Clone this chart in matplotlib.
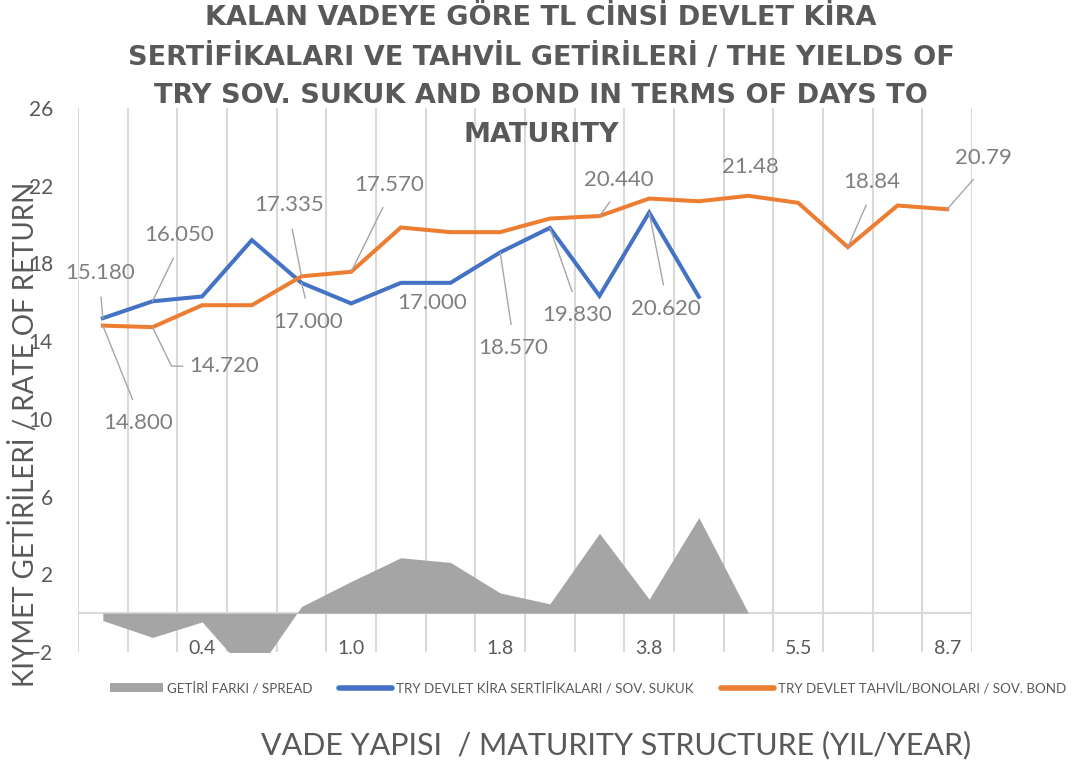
import matplotlib
matplotlib.use("Agg")
import matplotlib.pyplot as plt
from matplotlib.patches import Patch
from matplotlib.lines import Line2D
import numpy as np

plt.rcParams['font.family'] = ['Lato', 'DejaVu Sans']

# categories (only every third one is labelled on the axis)
x_labels = ["", "", "0.4", "", "", "1.0", "", "", "1.8", "", "", "3.8",
            "", "", "5.5", "", "", "8.7"]

bond = [14.80, 14.72, 15.85, 15.85, 17.335, 17.57, 19.85, 19.61, 19.61, 20.31,
        20.44, 21.34, 21.20, 21.48, 21.12, 18.84, 20.98, 20.79]
sukuk = [15.18, 16.05, 16.30, 19.20, 17.00, 15.94, 17.00, 17.00, 18.57, 19.83,
         16.33, 20.62, 16.28]
spread = [-0.38, -1.25, -0.45, -3.35, 0.34, 1.63, 2.85, 2.61, 1.04, 0.48,
          4.11, 0.72, 4.92, 0.0]

# data labels: index, text, offset of text centre (px), leader on/off
sukuk_lbl = [(0, "15.180", (-3, 45), True),
             (1, "16.050", (27, 66), True),
             (4, "17.000", (7, -39), True),
             (6, "17.000", (31, -20), False),
             (8, "18.570", (13, -96), True),
             (9, "19.830", (27, -87), True),
             (11, "20.620", (17, -96), True)]
bond_lbl = [(0, "14.800", (35, -97), True),
            (1, "14.720", (72, -39), "elbow"),
            (4, "17.335", (-12, 71), True),
            (5, "17.570", (38, 87), True),
            (10, "20.440", (19, 36), True),
            (13, "21.48", (2, 29), False),
            (15, "18.84", (24, 65), True),
            (17, "20.79", (36, 51), True)]

c_blue = "#4472C4"
c_orange = "#ED7D31"
c_gray = "#A5A5A5"
c_text = "#595959"
c_lbl = "#7F7F7F"
c_grid = "#D9D9D9"

fig = plt.figure(figsize=(10.73, 7.67), dpi=100)
ax = fig.add_axes([78/1073, 1-652/767, 894/1073, 544/767])

xb = np.arange(len(bond))
xs = np.arange(len(sukuk))
xa = np.arange(len(spread))

ax.fill_between(xa, 0, spread, color=c_gray, lw=0, zorder=2)
ax.plot(xs, sukuk, color=c_blue, lw=2.9, zorder=3, solid_joinstyle="miter")
ax.plot(xb, bond, color=c_orange, lw=2.9, zorder=4, solid_joinstyle="miter")
ax.axhline(0, color=c_grid, lw=1.5, zorder=1)

ax.set_xlim(-0.5, len(bond) - 0.5)
ax.set_ylim(-2, 26)
ax.set_yticks(np.arange(-2, 27, 4))
ax.set_xticks(xb)
ax.set_xticklabels(x_labels)
ax.set_xticks(np.arange(-0.5, len(bond), 1), minor=True)
ax.grid(which="minor", axis="x", color=c_grid, lw=1.5, zorder=0)
ax.tick_params(axis="y", length=0, pad=18, labelsize=15, labelcolor=c_text)
ax.tick_params(axis="x", which="both", length=0, pad=-8.5, labelsize=14,
               labelcolor=c_text)
for s in ax.spines.values():
    s.set_visible(False)


def put_labels(xs_, ys_, items):
    for i, txt, (dx, dy), lead in items:
        kw = dict(xy=(xs_[i], ys_[i]), xytext=(dx, dy), textcoords="offset pixels",
                  ha="center", va="center", fontsize=16, color=c_lbl, zorder=6)
        if lead == "elbow":
            kw["arrowprops"] = dict(arrowstyle="-", color="#A6A6A6", lw=1,
                                    shrinkA=3, shrinkB=0, relpos=(0, 0.5),
                                    connectionstyle="angle,angleA=0,angleB=-64,rad=0")
        elif lead:
            rel = (0.5, 0) if dy > 0 else (0.5, 1)
            kw["arrowprops"] = dict(arrowstyle="-", color="#A6A6A6", lw=1,
                                    shrinkA=8, shrinkB=0, relpos=rel)
        ax.annotate(txt, **kw)


put_labels(xs, sukuk, sukuk_lbl)
put_labels(xb, bond, bond_lbl)

fig.text(541/1073, 1-5/767,
         "KALAN VADEYE GÖRE TL CİNSİ DEVLET KİRA\n"
         "SERTİFİKALARI VE TAHVİL GETİRİLERİ / THE YIELDS OF\n"
         "TRY SOV. SUKUK AND BOND IN TERMS OF DAYS TO\n"
         "MATURITY",
         ha="center", va="top", fontsize=19.5, fontweight="bold",
         family="DejaVu Sans", color=c_text, linespacing=1.62)

fig.text(25/1073, 1-434/767, "KIYMET GETİRİLERİ / RATE OF RETURN",
         rotation=90, ha="center", va="center", fontsize=20, color=c_text)
fig.text(616/1073, 1-745/767, "VADE YAPISI  / MATURITY STRUCTURE (YIL/YEAR)",
         ha="center", va="center", fontsize=22, color=c_text)

handles = [Patch(facecolor=c_gray, edgecolor="none"),
           Line2D([], [], color=c_blue, lw=4, solid_capstyle="round"),
           Line2D([], [], color=c_orange, lw=4, solid_capstyle="round")]
names = ["GETİRİ FARKI / SPREAD",
         "TRY DEVLET KİRA SERTİFİKALARI / SOV. SUKUK",
         "TRY DEVLET TAHVİL/BONOLARI / SOV. BOND"]
fig.legend(handles, names, loc="center", bbox_to_anchor=(588/1073, 1-688/767),
           ncol=3, frameon=False, fontsize=9.6, labelcolor=c_text,
           handlelength=4, handleheight=0.6, handletextpad=0.3, columnspacing=2)

fig.savefig("out.png", dpi=100)
